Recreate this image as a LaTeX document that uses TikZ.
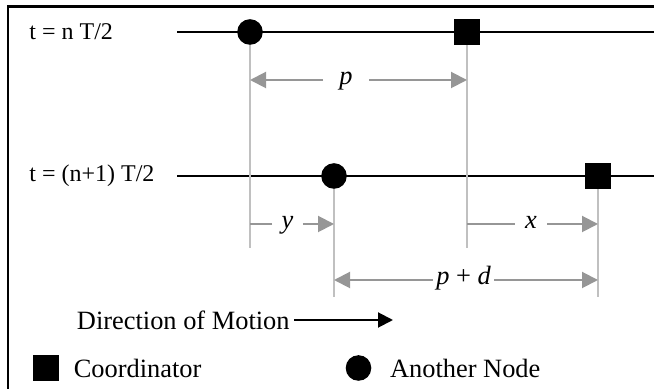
\documentclass[tikz,border=0pt]{standalone}
\usepackage{fontspec}
\setmainfont{Liberation Serif}
\usetikzlibrary{arrows.meta, positioning, backgrounds}
\definecolor{guidegray}{RGB}{192,192,192}
\definecolor{dimgray}{RGB}{150,150,150}
\tikzset{
  coordnode/.style={rectangle, fill=black, minimum size=13pt, inner sep=0pt},
  othernode/.style={circle, fill=black, minimum size=12.8pt, inner sep=0pt},
  timeline/.style={line width=1pt, black},
  guide/.style={line width=1pt, color=guidegray},
  dimline/.style={line width=1pt, color=dimgray},
  dimarrow/.style={-{Triangle[length=8pt,width=8pt]}, line width=1pt, color=dimgray},
  motion/.style={-{Triangle[length=7.5pt,width=7.5pt]}, line width=1pt, black},
  rowlabel/.style={anchor=west, inner sep=0pt, font=\fontsize{12}{14}\selectfont},
  dimlabel/.style={inner ysep=0pt, text height=1ex, text depth=0pt,
                   font=\fontsize{13.2}{15}\selectfont\itshape},
  plaintext/.style={inner sep=0pt, font=\fontsize{13.2}{15}\selectfont}
}
\begin{document}
\begin{tikzpicture}[x=0.5pt, y=-0.5pt]
  \useasboundingbox (0,0) rectangle (654,389);

  %% frame
  \draw[line width=1.1pt] (8,400) -- (8,6.5) -- (670,6.5);

  %% nodes on the two time lines
  \node[othernode] (a1) at (250,32) {};
  \node[coordnode] (c1) at (467,32) {};
  \node[othernode] (a2) at (334,176) {};
  \node[coordnode] (c2) at (598,176) {};

  \node[rowlabel] (t1) at (29,32) {t = n T/2};
  \node[rowlabel] (t2) at (29,176) {t = (n+1) T/2};

  \coordinate (l1s) at (177,32);  \coordinate (l1e) at (670,32);
  \coordinate (l2s) at (177,176); \coordinate (l2e) at (670,176);
  \coordinate (upperfoot) at (0,248);
  \coordinate (lowerfoot) at (0,297);

  \begin{scope}[on background layer]
    \draw[timeline] (l1s) -- (l1e);
    \draw[timeline] (l2s) -- (l2e);
    \draw[guide] (a1.center) -- (a1 |- upperfoot);
    \draw[guide] (c1.center) -- (c1 |- upperfoot);
    \draw[guide] (a2.center) -- (a2 |- lowerfoot);
    \draw[guide] (c2.center) -- (c2 |- lowerfoot);
  \end{scope}

  %% distances
  \node[dimlabel, inner xsep=8pt] (plab) at (346,80) {p};
  \draw[dimarrow] (plab) -- (a1 |- plab);
  \draw[dimarrow] (plab) -- (c1 |- plab);

  \node[dimlabel, inner xsep=4.5pt] (ylab) at (287.5,224) {y};
  \draw[dimline] (ylab) -- (a1 |- ylab);
  \draw[dimarrow] (ylab) -- (a2 |- ylab);

  \node[dimlabel, inner xsep=5pt] (xlab) at (531,224) {x};
  \draw[dimline] (xlab) -- (c1 |- xlab);
  \draw[dimarrow] (xlab) -- (c2 |- xlab);

  \node[dimlabel, inner xsep=1.5pt] (pdlab) at (463.5,280) {p \upshape+ \itshape d};
  \draw[dimarrow] (pdlab) -- (a2 |- pdlab);
  \draw[dimarrow] (pdlab) -- (c2 |- pdlab);

  %% direction
  \node[plaintext, anchor=east, inner xsep=2pt] (dir) at (294,320) {Direction of Motion};
  \coordinate (dirend) at (393,320);
  \draw[motion] (dir) -- (dirend);

  %% legend
  \node[coordnode] (legc) at (46,368) {};
  \node[plaintext, right=7pt of legc] (legctext) {Coordinator};
  \node[othernode] (lega) at (358.5,368) {};
  \node[plaintext, right=9pt of lega] (legatext) {Another Node};

\end{tikzpicture}
\end{document}
